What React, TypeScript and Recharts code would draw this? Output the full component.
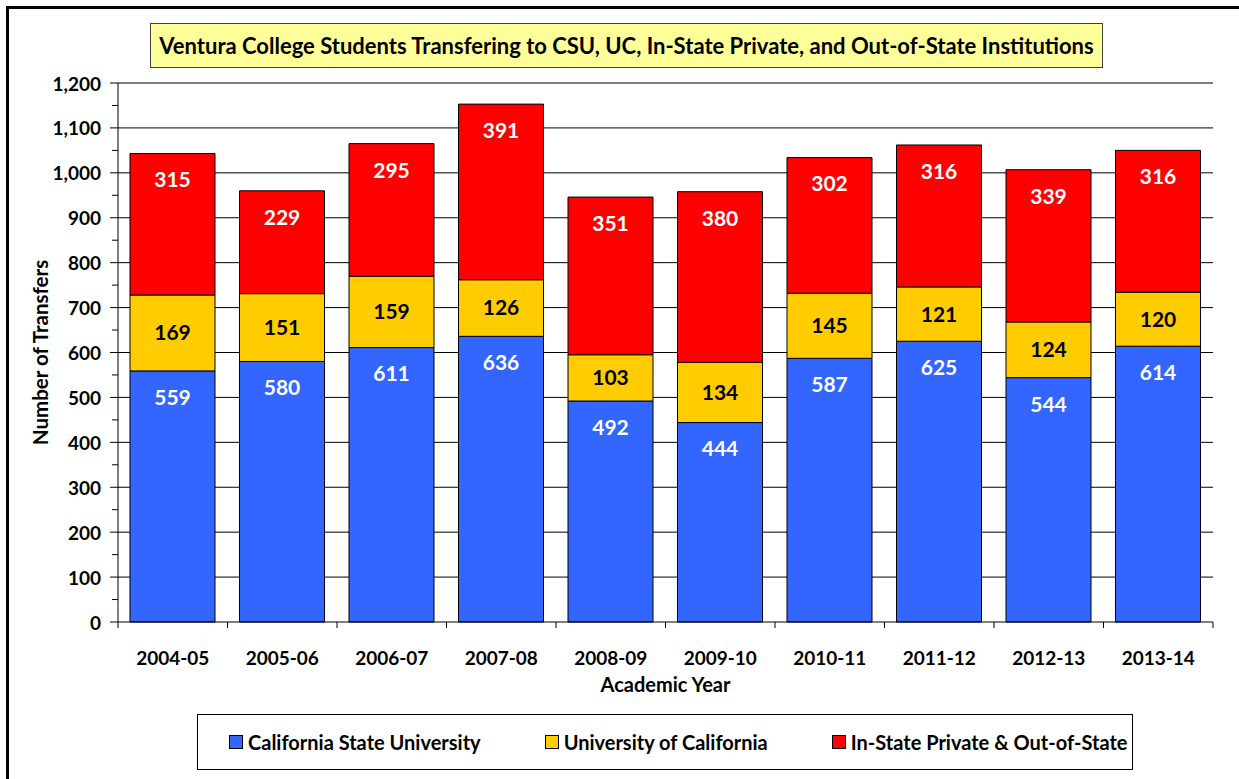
import React from 'react';
import { BarChart, Bar, XAxis, YAxis, CartesianGrid, LabelList } from 'recharts';

const years = ['2004-05', '2005-06', '2006-07', '2007-08', '2008-09', '2009-10', '2010-11', '2011-12', '2012-13', '2013-14'];
const csu = [559, 580, 611, 636, 492, 444, 587, 625, 544, 614];
const uc = [169, 151, 159, 126, 103, 134, 145, 121, 124, 120];
const privateOos = [315, 229, 295, 391, 351, 380, 302, 316, 339, 316];

const seriesNames = ['California State University', 'University of California', 'In-State Private & Out-of-State'];
const seriesColors = ['#3366ff', '#ffcc00', '#ff0000'];

const yTicks = [0, 50, 100, 150, 200, 250, 300, 350, 400, 450, 500, 550, 600, 650, 700, 750, 800, 850, 900, 950, 1000, 1050, 1100, 1150, 1200];
const gridValues = [100, 200, 300, 400, 500, 600, 700, 800, 900, 1000, 1100, 1200];

const data = years.map((year, i) => ({ year, csu: csu[i], uc: uc[i], other: privateOos[i] }));

const FONT = 'Lato, "Open Sans", sans-serif';
const PLOT_LEFT = 118;
const PLOT_RIGHT = 1213;
const PLOT_TOP = 83;
const PLOT_BOTTOM = 622;
const HALF_BAND = (PLOT_RIGHT - PLOT_LEFT) / years.length / 2;

const YTick = (props: any) => {
  const { x, y, payload } = props;
  const major = payload.value % 100 === 0;
  return (
    <g>
      <line x1={x - (major ? 8 : 6)} x2={x} y1={y} y2={y} stroke="#000" />
      {major && (
        <text x={x - 17} y={y} textAnchor="end" dominantBaseline="central" fontFamily={FONT} fontWeight="bold" fontSize={19} fill="#000">
          {payload.value.toLocaleString('en-US')}
        </text>
      )}
    </g>
  );
};

const XTick = (props: any) => {
  const { x, y, payload, index } = props;
  return (
    <g>
      <line x1={x - HALF_BAND} x2={x - HALF_BAND} y1={y} y2={y + 6} stroke="#000" />
      {index === years.length - 1 && <line x1={x + HALF_BAND} x2={x + HALF_BAND} y1={y} y2={y + 6} stroke="#000" />}
      <text x={x} y={y + 35} textAnchor="middle" dominantBaseline="central" fontFamily={FONT} fontWeight="bold" fontSize={19} fill="#000">
        {payload.value}
      </text>
    </g>
  );
};

const YLabel = (props: any) => {
  const vb = props.viewBox || { x: 58, y: PLOT_TOP, height: PLOT_BOTTOM - PLOT_TOP };
  const cx = vb.x - 18;
  const cy = vb.y + vb.height / 2;
  return (
    <text x={cx} y={cy} transform={`rotate(-90, ${cx}, ${cy})`} textAnchor="middle" dominantBaseline="central" fontFamily={FONT} fontWeight="bold" fontSize={20.5} fill="#000">
      Number of Transfers
    </text>
  );
};

const labelStyle = { fontFamily: FONT, fontWeight: 'bold', fontSize: 21 };

export default function App() {
  return (
    <div style={{ position: 'absolute', left: 0, top: 0, width: 1239, height: 779, overflow: 'hidden', background: '#fff', fontFamily: FONT }}>
      <div style={{ position: 'absolute', left: 6, top: 6, width: 1300, height: 900, border: '3px solid #000' }} />
      <div
        style={{
          position: 'absolute', left: 150, top: 23, width: 953, height: 45, boxSizing: 'border-box',
          border: '1px solid #404040', background: '#ffff99', display: 'flex', alignItems: 'center',
          justifyContent: 'center', fontWeight: 'bold', fontSize: 22, color: '#000', whiteSpace: 'nowrap',
        }}
      >
        Ventura College Students Transfering to CSU, UC, In-State Private, and Out-of-State Institutions
      </div>
      <div style={{ position: 'absolute', left: 0, top: 0 }}>
        <BarChart width={1239} height={779} data={data} margin={{ top: PLOT_TOP, right: 1239 - PLOT_RIGHT, bottom: 82, left: 58 }}>
          <CartesianGrid vertical={false} horizontalValues={gridValues} stroke="#000" yAxisId="left" />
          <XAxis
            dataKey="year"
            interval={0}
            tickLine={false}
            tickSize={0}
            tickMargin={0}
            height={75}
            axisLine={{ stroke: '#000' }}
            tick={<XTick />}
            label={{ value: 'Academic Year', position: 'insideBottom', offset: 5, style: { fontFamily: FONT, fontWeight: 'bold', fontSize: 20, fill: '#000' } }}
          />
          <YAxis
            yAxisId="left"
            domain={[0, 1200]}
            ticks={yTicks}
            interval={0}
            tickLine={false}
            tickSize={0}
            tickMargin={0}
            width={60}
            axisLine={{ stroke: '#000' }}
            tick={<YTick />}
            label={<YLabel />}
          />
          <YAxis yAxisId="right" orientation="right" domain={[0, 1200]} tick={false} tickLine={false} width={0} axisLine={{ stroke: '#808080' }} />
          <Bar yAxisId="left" dataKey="csu" stackId="a" fill={seriesColors[0]} stroke="#000" strokeWidth={1} barSize={85} isAnimationActive={false}>
            <LabelList dataKey="csu" position="insideTop" offset={19} fill="#fff" style={labelStyle} />
          </Bar>
          <Bar yAxisId="left" dataKey="uc" stackId="a" fill={seriesColors[1]} stroke="#000" strokeWidth={1} barSize={85} isAnimationActive={false}>
            <LabelList dataKey="uc" position="center" fill="#000" style={labelStyle} />
          </Bar>
          <Bar yAxisId="left" dataKey="other" stackId="a" fill={seriesColors[2]} stroke="#000" strokeWidth={1} barSize={85} isAnimationActive={false}>
            <LabelList dataKey="other" position="insideTop" offset={19} fill="#fff" style={labelStyle} />
          </Bar>
        </BarChart>
      </div>
      <div
        style={{
          position: 'absolute', left: 197, top: 714, width: 936, height: 56, boxSizing: 'border-box',
          border: '1.5px solid #000', background: '#fff', display: 'flex', alignItems: 'center',
          paddingLeft: 31, gap: 64, fontWeight: 'bold', fontSize: 20, color: '#000', whiteSpace: 'nowrap',
        }}
      >
        {seriesNames.map((name, i) => (
          <div key={name} style={{ display: 'flex', alignItems: 'center' }}>
            <span style={{ display: 'inline-block', width: 12, height: 12, background: seriesColors[i], border: '1px solid #000', marginRight: 5 }} />
            <span>{name}</span>
          </div>
        ))}
      </div>
    </div>
  );
}
